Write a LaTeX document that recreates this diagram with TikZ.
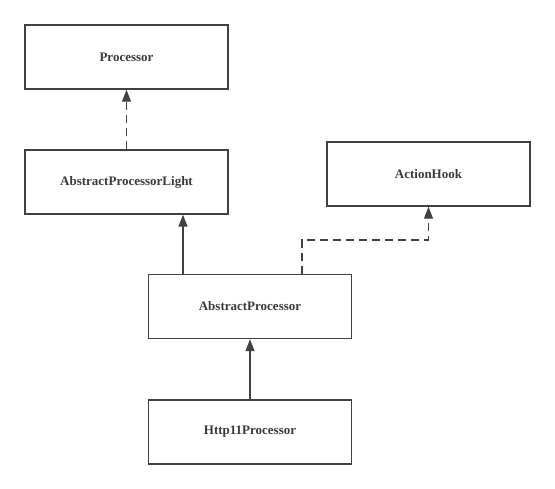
\documentclass[tikz,border=0pt]{standalone}
\usepackage{fontspec}
\setmainfont{Liberation Serif}
\usetikzlibrary{arrows.meta}
\definecolor{ln}{HTML}{3F4245}
\tikzset{
  cls/.style={draw=ln, line width=1.5pt, fill=white, minimum width=203pt, minimum height=64pt, inner sep=0pt, font=\fontsize{13}{15}\selectfont\bfseries, text=ln!90!black},
  inh/.style={draw=ln, line width=1.3pt, -{Triangle[length=12pt,width=9pt]}},
  real/.style={inh, dash pattern=on 8pt off 5pt}
}
\begin{document}
\begin{tikzpicture}[x=1pt,y=-1pt]
\useasboundingbox (0,0) rectangle (555,489);
\node[cls] (proc) at (126.5,57) {Processor};
\node[cls] (apl) at (126.5,182) {AbstractProcessorLight};
\node[cls] (hook) at (428.5,174) {ActionHook};
\node[cls] (ap) at (250,306.5) {AbstractProcessor};
\node[cls] (http) at (250,432) {Http11Processor};
\draw[real] (apl.north) -- (proc.south);
\draw[inh] (ap.north -| 183,0) -- (183,0 |- apl.south);
\coordinate (bend) at (302,240);
\draw[real] (ap.north -| bend) -- (bend) -| (hook.south);
\draw[inh] (http.north) -- (ap.south);
\end{tikzpicture}
\end{document}
